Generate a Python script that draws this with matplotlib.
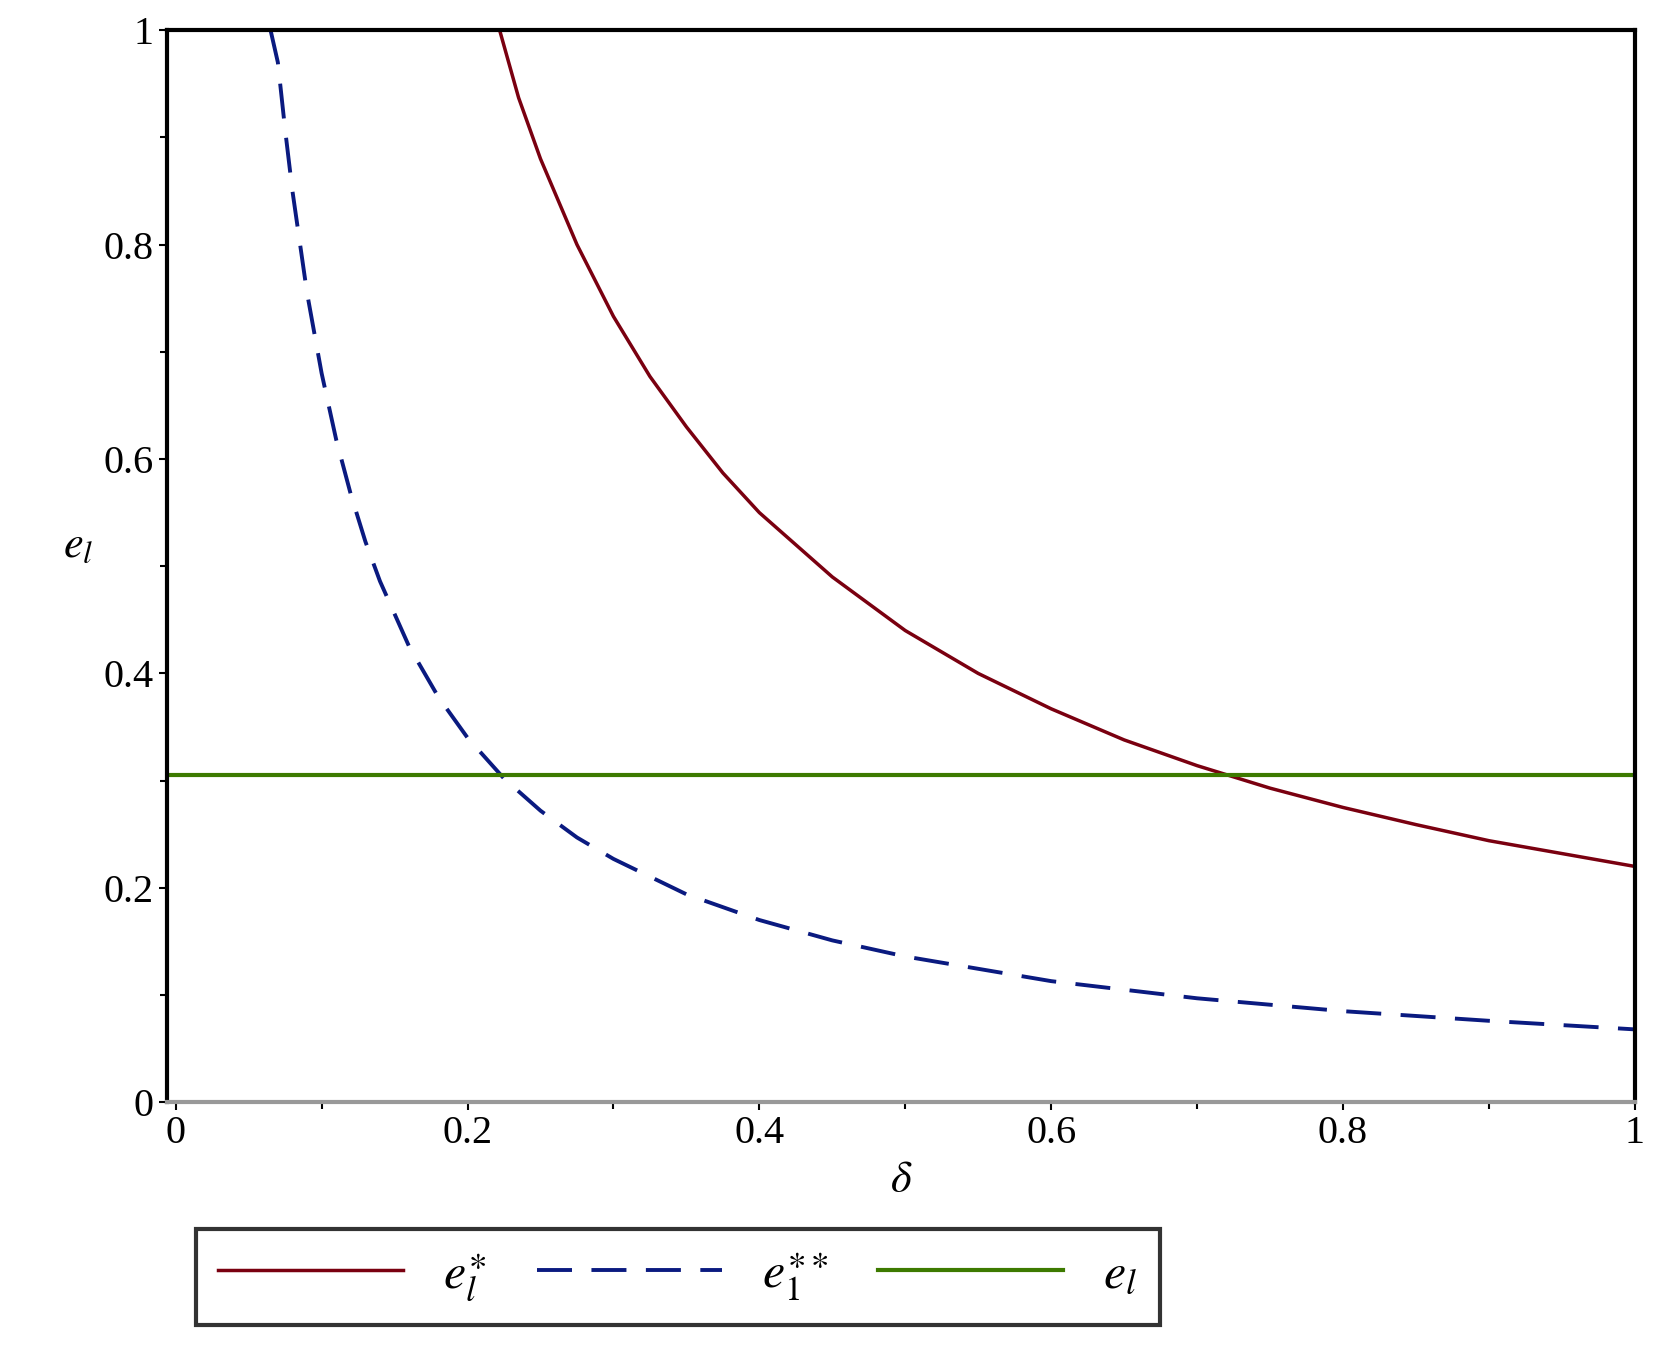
import numpy as np
import matplotlib.pyplot as plt

plt.rcParams['font.family'] = ['Liberation Serif', 'DejaVu Serif']
plt.rcParams['mathtext.fontset'] = 'stix'

# curves
red_x = [0.222, 0.235, 0.25, 0.275, 0.3, 0.325, 0.35, 0.375, 0.4, 0.45, 0.5, 0.55, 0.6, 0.65, 0.7, 0.75, 0.8, 0.85, 0.9, 0.95, 1.0]
red_y = [1.0, 0.937, 0.88, 0.80, 0.733, 0.677, 0.63, 0.587, 0.55, 0.49, 0.44, 0.40, 0.367, 0.338, 0.314, 0.293, 0.275, 0.259, 0.244, 0.232, 0.22]
blue_x = [0.065, 0.07, 0.075, 0.08, 0.09, 0.1, 0.11, 0.12, 0.13, 0.14, 0.16, 0.18, 0.2, 0.225, 0.25, 0.275, 0.3, 0.35, 0.4, 0.45, 0.5, 0.6, 0.7, 0.8, 0.9, 1.0]
blue_y = [1.0, 0.97, 0.907, 0.85, 0.755, 0.68, 0.618, 0.567, 0.523, 0.486, 0.425, 0.378, 0.34, 0.302, 0.272, 0.247, 0.227, 0.194, 0.17, 0.151, 0.136, 0.113, 0.097, 0.085, 0.076, 0.068]
green_level = 0.305

fig = plt.figure(figsize=(16.53, 13.71), dpi=100)
ax = fig.add_axes([0.101, 0.196, 0.888, 0.782])

ax.plot(red_x, red_y, color='#7a0010', lw=2.5, label=r'$e_l^{\ast}$')
ax.plot(blue_x, blue_y, color='#0a1a80', lw=2.8, dashes=(9, 5), label=r'$e_1^{\ast\ast}$')
ax.axhline(green_level, color='#3d7a00', lw=3, label=r'$e_l$')

ax.set_xlim(-0.006, 1.0)
ax.set_ylim(0, 1)
ax.set_xticks([0, 0.2, 0.4, 0.6, 0.8, 1.0])
ax.set_xticklabels(['0', '0.2', '0.4', '0.6', '0.8', '1'])
ax.set_yticks([0, 0.2, 0.4, 0.6, 0.8, 1.0])
ax.set_yticklabels(['0', '0.2', '0.4', '0.6', '0.8', '1'])
ax.set_xticks(np.arange(0.1, 1.0, 0.2), minor=True)
ax.set_yticks(np.arange(0.1, 1.0, 0.2), minor=True)
ax.tick_params(labelsize=29, length=6, width=1.5, direction='out')
ax.tick_params(which='minor', length=5, width=1.5)
for s in ax.spines.values():
    s.set_linewidth(3)
ax.spines['bottom'].set_color('#999999')

ax.set_xlabel(r'$\delta$', fontsize=32, labelpad=6)
ax.set_ylabel(r'$e_l$', fontsize=32, rotation=0, labelpad=18)

leg = ax.legend(loc='lower center', bbox_to_anchor=(0.41, 0.015), bbox_transform=fig.transFigure,
                ncol=3, fontsize=36, frameon=True, fancybox=False, edgecolor='black',
                handlelength=3.7, columnspacing=1.0, handletextpad=0.8, borderpad=0.45)
leg.get_frame().set_linewidth(3)

fig.savefig('out.png')
